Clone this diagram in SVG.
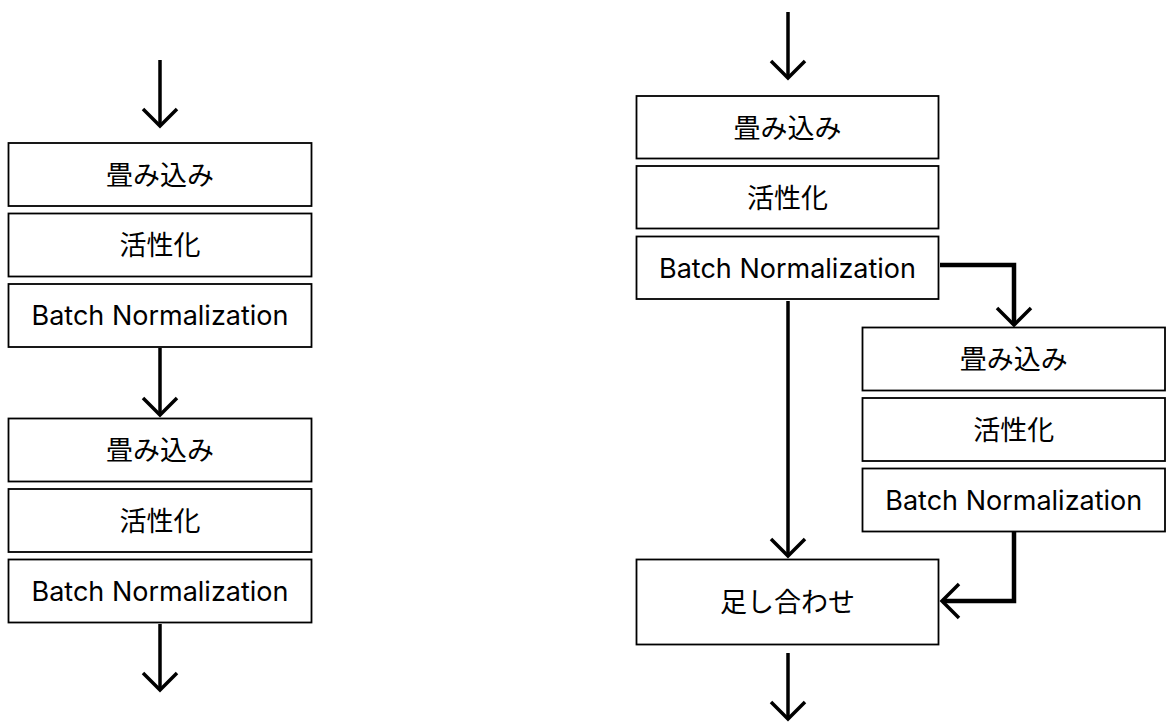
<svg xmlns="http://www.w3.org/2000/svg" width="1168" height="722" viewBox="0 0 1168 722">
  <defs>
    <marker id="chev" markerUnits="userSpaceOnUse" markerWidth="40" markerHeight="40" refX="0" refY="0" viewBox="-20 -20 40 40" orient="auto" overflow="visible">
      <path d="M-17,-17 L0,0 L-17,17" fill="none" stroke="#000" stroke-width="3.5"/>
    </marker>
    <style>
      .box { fill: #fff; stroke: #000; stroke-width: 1.8; }
      .lbl { font-family: Inter, "Noto Sans CJK JP", sans-serif; font-size: 27px; fill: #000; text-anchor: middle; }
      .wire { fill: none; stroke: #000; stroke-width: 3.5; marker-end: url(#chev); }
      .wire.thick { stroke-width: 4.5; }
    </style>
  </defs>

  <rect width="1168" height="722" fill="#fff"/>

  <!-- connectors -->
  <g id="connectors">
    <line class="wire" x1="160" y1="60" x2="160" y2="126"/>
    <line class="wire" x1="160" y1="348" x2="160" y2="415"/>
    <line class="wire" x1="160" y1="624" x2="160" y2="690"/>
    <line class="wire" x1="788" y1="12" x2="788" y2="78"/>
    <line class="wire" x1="788" y1="301" x2="788" y2="556"/>
    <line class="wire" x1="788" y1="653" x2="788" y2="719"/>
    <polyline class="wire thick" points="940,265 1014,265 1014,325"/>
    <polyline class="wire thick" points="1014,532 1014,601 942,601"/>
  </g>

  <!-- left stack -->
  <g id="l-conv1"><rect class="box" x="8.5" y="143" width="303" height="63"/><text class="lbl" x="160" y="184.5">畳み込み</text></g>
  <g id="l-act1"><rect class="box" x="8.5" y="213.5" width="303" height="63"/><text class="lbl" x="160" y="255">活性化</text></g>
  <g id="l-bn1"><rect class="box" x="8.5" y="284" width="303" height="63"/><text class="lbl" x="160" y="325">Batch Normalization</text></g>
  <g id="l-conv2"><rect class="box" x="8.5" y="418.5" width="303" height="63"/><text class="lbl" x="160" y="460">畳み込み</text></g>
  <g id="l-act2"><rect class="box" x="8.5" y="489" width="303" height="63"/><text class="lbl" x="160" y="530.5">活性化</text></g>
  <g id="l-bn2"><rect class="box" x="8.5" y="559.5" width="303" height="63"/><text class="lbl" x="160" y="600.5">Batch Normalization</text></g>

  <!-- right main stack -->
  <g id="r-conv"><rect class="box" x="636.5" y="96" width="302" height="62.5"/><text class="lbl" x="787.5" y="137.5">畳み込み</text></g>
  <g id="r-act"><rect class="box" x="636.5" y="166" width="302" height="62.5"/><text class="lbl" x="787.5" y="207.5">活性化</text></g>
  <g id="r-bn"><rect class="box" x="636.5" y="236.5" width="302" height="62.5"/><text class="lbl" x="787.5" y="277.5">Batch Normalization</text></g>
  <g id="r-add"><rect class="box" x="636.5" y="559.5" width="302" height="85"/><text class="lbl" x="787.5" y="612">足し合わせ</text></g>

  <!-- right branch stack -->
  <g id="b-conv"><rect class="box" x="862.5" y="327.5" width="302.5" height="63"/><text class="lbl" x="1013.75" y="369">畳み込み</text></g>
  <g id="b-act"><rect class="box" x="862.5" y="398" width="302.5" height="63"/><text class="lbl" x="1013.75" y="439.5">活性化</text></g>
  <g id="b-bn"><rect class="box" x="862.5" y="468.5" width="302.5" height="63"/><text class="lbl" x="1013.75" y="509.5">Batch Normalization</text></g>
</svg>
